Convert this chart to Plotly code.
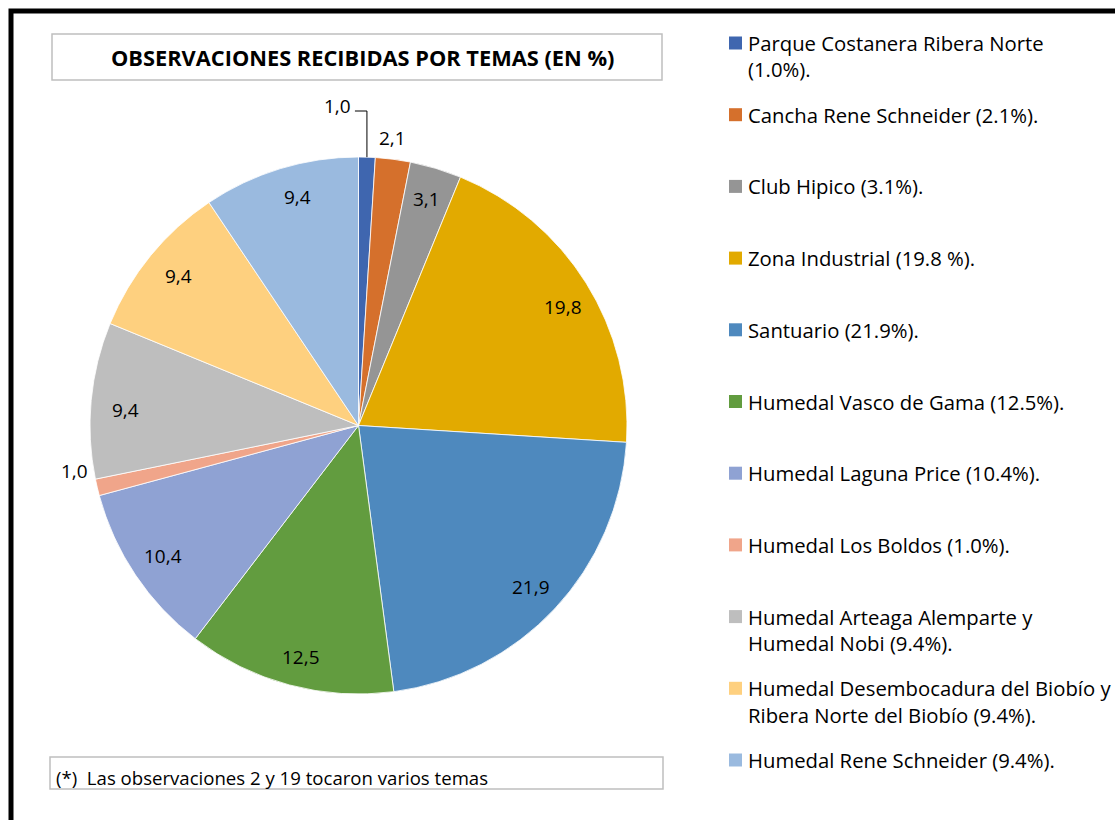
import math
import plotly.graph_objects as go

# ---- data -----------------------------------------------------------------
temas = [
    "Parque Costanera Ribera Norte",
    "Cancha Rene Schneider",
    "Club Hipico",
    "Zona Industrial",
    "Santuario",
    "Humedal Vasco de Gama",
    "Humedal Laguna Price",
    "Humedal Los Boldos",
    "Humedal Arteaga Alemparte y Humedal Nobi",
    "Humedal Desembocadura del Biobío y Ribera Norte del Biobío",
    "Humedal Rene Schneider",
]
porcentajes = [1.0, 2.1, 3.1, 19.8, 21.9, 12.5, 10.4, 1.0, 9.4, 9.4, 9.4]

# legend texts, split into display lines
leyenda = [
    ["Parque Costanera Ribera Norte", "(1.0%)."],
    ["Cancha Rene Schneider (2.1%)."],
    ["Club Hipico (3.1%)."],
    ["Zona Industrial (19.8 %)."],
    ["Santuario (21.9%)."],
    ["Humedal Vasco de Gama (12.5%)."],
    ["Humedal Laguna Price (10.4%)."],
    ["Humedal Los Boldos (1.0%)."],
    ["Humedal Arteaga Alemparte y", "Humedal Nobi (9.4%)."],
    ["Humedal Desembocadura del Biobío y", "Ribera Norte del Biobío (9.4%)."],
    ["Humedal Rene Schneider (9.4%)."],
]

titulo = "OBSERVACIONES RECIBIDAS POR TEMAS (EN %)"
nota = "(*)  Las observaciones 2 y 19 tocaron varios temas"

# ---- style ----------------------------------------------------------------
colores = ["#3F66AF", "#D5702C", "#959595", "#E2AA00", "#4E89BE", "#629C3F",
           "#8FA2D3", "#F0A58A", "#BEBEBE", "#FED07F", "#9ABADF"]

W, H = 1115, 820
FONT = "Open Sans, Calibri, sans-serif"
CX, CY, R = 358.5, 425.5, 268.5     # pie centre and radius in pixels

# label placement per slice: (radius factor, angle nudge in degrees)
colocacion = [(None, 0), (1.078, -0.6), (0.88, 0), (0.88, 2), (0.88, 0),
              (0.89, -1), (0.875, 0), (1.07, 4.3), (0.87, -1.5), (0.87, 0.5),
              (0.88, 2)]


def px(x):
    return x / W


def py(y):
    return 1 - y / H


fig = go.Figure()
fig.add_trace(go.Pie(
    labels=temas,
    values=porcentajes,
    sort=False,
    direction="clockwise",
    rotation=0,
    textinfo="none",
    hoverinfo="label+value",
    marker=dict(colors=colores, line=dict(color="white", width=0.8)),
    domain=dict(x=[px(CX - R), px(CX + R)], y=[py(CY + R), py(CY - R)]),
    showlegend=False,
))

annotations = []
shapes = []

# value labels, positioned from each slice's mid angle
total = sum(porcentajes)
acum = 0.0
for i, v in enumerate(porcentajes):
    mid = (acum + v / 2) / total * 360
    acum += v
    texto = f"{v:.1f}".replace(".", ",")
    rf, nudge = colocacion[i]
    if rf is None:
        # leader-line label for the first slice
        a = math.radians(mid)
        x0, y0 = CX + R * math.sin(a), CY - R * math.cos(a)
        ye = 111
        shapes.append(dict(type="path", xref="paper", yref="paper",
                           path=f"M {px(x0)} {py(y0)} L {px(x0)} {py(ye)} L {px(x0 - 12)} {py(ye)}",
                           line=dict(color="#000000", width=1)))
        annotations.append(dict(x=px(x0 - 14), y=py(106), xref="paper", yref="paper",
                                text=texto, showarrow=False, xanchor="right", yanchor="middle",
                                font=dict(family=FONT, size=19, color="#000000")))
        continue
    a = math.radians(mid + nudge)
    x = CX + rf * R * math.sin(a)
    y = CY - rf * R * math.cos(a)
    annotations.append(dict(x=px(x), y=py(y), xref="paper", yref="paper",
                            text=texto, showarrow=False, xanchor="center", yanchor="middle",
                            font=dict(family=FONT, size=19, color="#000000")))

# legend drawn as colour squares with text
LEG_Y0, LEG_DY, LINE_DY = 43, 71.7, 26.5
for i, lineas in enumerate(leyenda):
    yc = LEG_Y0 + i * LEG_DY
    shapes.append(dict(type="rect", xref="paper", yref="paper",
                       x0=px(729), x1=px(742), y0=py(yc + 6.5), y1=py(yc - 6.5),
                       fillcolor=colores[i], line=dict(width=0)))
    for k, linea in enumerate(lineas):
        annotations.append(dict(x=px(746), y=py(yc + k * LINE_DY), xref="paper", yref="paper",
                                text=linea, showarrow=False, xanchor="left", yanchor="middle",
                                font=dict(family=FONT, size=20.3, color="#000000")))

# title box
shapes.append(dict(type="rect", xref="paper", yref="paper",
                   x0=px(52), x1=px(662), y0=py(80), y1=py(34),
                   line=dict(color="#BFBFBF", width=1.5), fillcolor="white"))
annotations.append(dict(x=px(362), y=py(58), xref="paper", yref="paper",
                        text=f"<b>{titulo}</b>", showarrow=False,
                        xanchor="center", yanchor="middle",
                        font=dict(family=FONT, size=21.8, color="#000000")))

# footnote box
shapes.append(dict(type="rect", xref="paper", yref="paper",
                   x0=px(50), x1=px(663), y0=py(789), y1=py(757),
                   line=dict(color="#BFBFBF", width=1.5), fillcolor="white"))
annotations.append(dict(x=px(54), y=py(777), xref="paper", yref="paper",
                        text=nota, showarrow=False, xanchor="left", yanchor="middle",
                        font=dict(family=FONT, size=18.6, color="#000000")))

# outer frame
shapes.append(dict(type="rect", xref="paper", yref="paper",
                   x0=px(11), x1=px(W + 40), y0=py(H + 40), y1=py(11),
                   line=dict(color="#000000", width=5), layer="above"))

fig.update_layout(
    width=W, height=H,
    margin=dict(l=0, r=0, t=0, b=0),
    paper_bgcolor="white",
    plot_bgcolor="white",
    shapes=shapes,
    annotations=annotations,
)

fig.write_html("out.html")
